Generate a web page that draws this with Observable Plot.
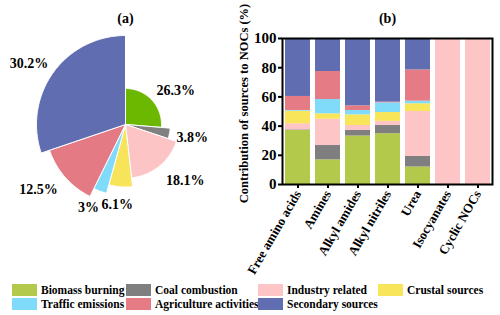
<!DOCTYPE html>
<html>
<head>
<meta charset="utf-8">
<script src="https://cdn.jsdelivr.net/npm/d3@7"></script>
<script src="https://cdn.jsdelivr.net/npm/@observablehq/plot@0.6"></script>
<style>
  body { margin: 0; background: #fff; }
  #wrap { position: relative; width: 500px; height: 315px; overflow: hidden; background: #fff;
          font-family: "Liberation Serif", "Times New Roman", serif; font-weight: bold; }
  #pie { position: absolute; left: 0; top: 0; }
  #bars { position: absolute; left: 230px; top: 0; }
  .lg { position: absolute; display: flex; align-items: center; font-size: 11.5px; color: #000; white-space: nowrap; }
  .lg span.sw { display: inline-block; width: 25px; height: 12px; margin-right: 4px; }
</style>
</head>
<body>
<div id="wrap">
  <div id="pie"></div>
  <div id="bars"></div>
  <div id="legend"></div>
</div>
<script>
// ---- data ----
const sources = ["Biomass burning", "Coal combustion", "Industry related", "Crustal sources",
                 "Traffic emissions", "Agriculture activities", "Secondary sources"];
const piePct = [26.3, 3.8, 18.1, 6.1, 3, 12.5, 30.2];
const pieColors = ["#6cb800", "#808080", "#fcc4c4", "#f8e45a", "#80dbfa", "#e47a84", "#606db1"];
const barColors = ["#b3c94b", "#7f7f7f", "#fdc5c5", "#f8e55a", "#80dbfa", "#e57b85", "#606db1"];
const compounds = ["Free amino acids", "Amines", "Alkyl amides", "Alkyl nitriles", "Urea", "Isocyanates", "Cyclic NOCs"];
const biomass   = [37.0, 16.9, 33.2, 34.8, 12.0, 0, 0];
const coal      = [0.4, 9.8, 3.8, 5.6, 7.2, 0, 0];
const industry  = [4.2, 18.0, 3.4, 2.8, 30.8, 100, 100];
const crustal   = [8.6, 3.7, 7.3, 6.1, 5.3, 0, 0];
const traffic   = [0.5, 9.8, 3.0, 6.6, 1.8, 0, 0];
const agri      = [9.6, 19.2, 3.2, 0.5, 21.4, 0, 0];
const secondary = [39.7, 22.6, 46.1, 43.6, 21.5, 0, 0];
const yTicks = [0, 20, 40, 60, 80, 100];

const FONT = "'Liberation Serif', 'Times New Roman', serif";

// ---- pie (rose-style, radius grows with slice order) ----
const rScale = d3.scaleLinear().domain([0, sources.length - 1]).range([36, 89]);
const total = d3.sum(piePct);
const ctx = document.createElement("canvas").getContext("2d");
ctx.font = "bold 14px " + FONT;
let cum = 0;
const slices = piePct.map((p, i) => {
  const a0 = cum / total * 2 * Math.PI; cum += p;
  const a1 = cum / total * 2 * Math.PI;
  const mid = (a0 + a1) / 2, r = rScale(i);
  // label: place the text box just outside the slice, along its mid-angle
  const ux = Math.sin(mid), uy = Math.cos(mid); // uy: upward component
  const text = p + "%";
  const w = ctx.measureText(text).width / 2, h = 6;
  const s = v => Math.max(-1, Math.min(1, v * 2));
  const g = 6 + 6 * Math.max(0, -uy);
  const lx = (r + g) * ux + w * s(ux);
  const ly = (r + g) * uy + h * s(uy);
  return {name: sources[i], pct: p, text, a0, a1, mid, r, lx, ly};
});
const piePts = [];
for (const sl of slices) {
  piePts.push({name: sl.name, x: 0, y: 0});
  const n = Math.max(4, Math.ceil((sl.a1 - sl.a0) / (Math.PI / 180)));
  for (let k = 0; k <= n; k++) {
    const a = sl.a0 + (sl.a1 - sl.a0) * k / n;
    piePts.push({name: sl.name, x: sl.r * Math.sin(a), y: sl.r * Math.cos(a)});
  }
  piePts.push({name: sl.name, x: 0, y: 0});
}
const pie = Plot.plot({
  width: 230, height: 250, margin: 0,
  x: {domain: [-125, 105], axis: null},
  y: {domain: [-126, 124], axis: null},
  color: {domain: sources, range: pieColors},
  style: {fontFamily: FONT, fontWeight: "bold", background: "transparent"},
  marks: [
    Plot.line(piePts, {x: "x", y: "y", z: "name", fill: "name", stroke: "white", strokeWidth: 1, curve: "linear"}),
    Plot.text(slices, {x: "lx", y: "ly", text: "text", fontSize: 14, fill: "black"}),
    Plot.text(["(a)"], {frameAnchor: "top", dx: 10, dy: 13, fontSize: 14, fill: "black"})
  ]
});
document.getElementById("pie").appendChild(pie);

// ---- stacked bars ----
const series = [biomass, coal, industry, crustal, traffic, agri, secondary];
const barData = [];
compounds.forEach((c, j) => series.forEach((vals, i) => barData.push({compound: c, source: sources[i], value: vals[j]})));

const bars = Plot.plot({
  width: 270, height: 280,
  marginLeft: 52, marginRight: 8, marginTop: 38, marginBottom: 96,
  style: {fontFamily: FONT, fontWeight: "bold", fontSize: "14px", background: "transparent", color: "black"},
  x: {domain: compounds, paddingInner: 0.18, paddingOuter: 0.08},
  y: {domain: [0, 100]},
  color: {domain: sources, range: barColors},
  marks: [
    Plot.barY(barData, {x: "compound", y: "value", fill: "source", order: sources}),
    Plot.frame({stroke: "black", strokeWidth: 2}),
    Plot.axisY({ticks: yTicks, tickSize: 4, tickPadding: 2, label: null, strokeWidth: 2, fontSize: 15}),
    Plot.axisX({tickSize: 4, tickRotate: -60, tickPadding: 3, label: null, strokeWidth: 2, fontSize: 13}),
    Plot.text(["Contribution of sources to NOCs (%)"], {frameAnchor: "left", textAnchor: "middle", rotate: -90, dx: -39, dy: -8, fontSize: 12.5, fill: "black"}),
    Plot.text(["(b)"], {frameAnchor: "top", dy: -25, fontSize: 14, fill: "black"})
  ]
});
document.getElementById("bars").appendChild(bars);

// ---- legend ----
const legCols = [12, 126, 258, 378];
const legRows = [284, 298];
const legend = document.getElementById("legend");
sources.forEach((s, i) => {
  const el = document.createElement("div");
  el.className = "lg";
  el.style.left = legCols[i % 4] + "px";
  el.style.top = legRows[Math.floor(i / 4)] + "px";
  el.style.height = "12px";
  const sw = document.createElement("span");
  sw.className = "sw";
  sw.style.background = barColors[i];
  el.appendChild(sw);
  el.appendChild(document.createTextNode(s));
  legend.appendChild(el);
});
</script>
</body>
</html>
